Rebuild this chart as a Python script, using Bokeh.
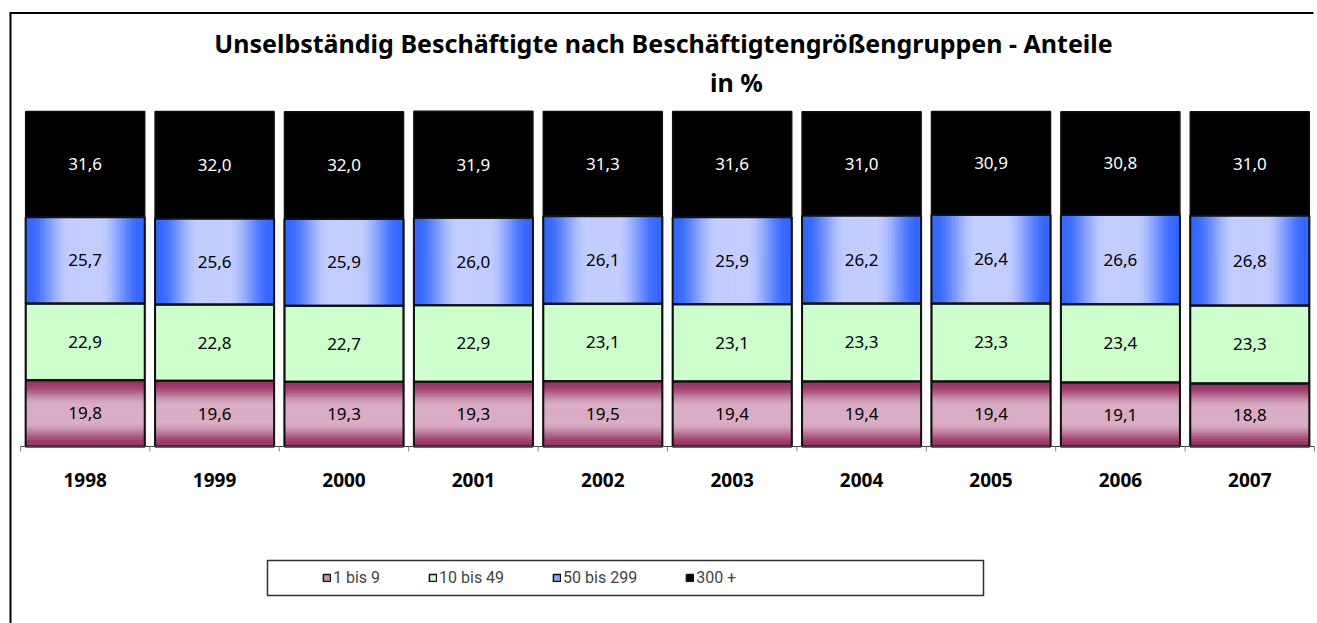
from bokeh.plotting import figure
from bokeh.models import (Range1d, ColumnDataSource, Label, BoxAnnotation, Legend, LegendItem)
from bokeh.core.properties import value
from bokeh.embed import file_html
from bokeh.resources import INLINE

# ---------------- data ----------------
years = ["1998", "1999", "2000", "2001", "2002", "2003", "2004", "2005", "2006", "2007"]
s_1_9 = [19.8, 19.6, 19.3, 19.3, 19.5, 19.4, 19.4, 19.4, 19.1, 18.8]
s_10_49 = [22.9, 22.8, 22.7, 22.9, 23.1, 23.1, 23.3, 23.3, 23.4, 23.3]
s_50_299 = [25.7, 25.6, 25.9, 26.0, 26.1, 25.9, 26.2, 26.4, 26.6, 26.8]
s_300 = [31.6, 32.0, 32.0, 31.9, 31.3, 31.6, 31.0, 30.9, 30.8, 31.0]
series_names = ["1 bis 9", "10 bis 49", "50 bis 299", "300 +"]
title_line1 = "Unselbständig Beschäftigte nach Beschäftigtengrößengruppen - Anteile"
title_line2 = "in %"

# ---------------- layout / style ----------------
W, H = 1317, 623
X0, XPX = 20.0, 129.4      # pixel of category 0 start, pixels per category
Y0, YPX = 446.0, 3.35      # pixel of value 0, pixels per percent
PINK_DARK, PINK_LIGHT, PINK_LEG = "#993366", "#DAAEC6", "#C597AE"
BLUE_DARK, BLUE_LIGHT, BLUE_LEG = "#3366FF", "#C4CEFF", "#8FA6FF"
GREEN = "#CCFFCC"
BLACK = "#000000"
FONT = "Noto Sans"
BW = 0.92
NSTRIP = 40

def px_x(px):
    return (px - X0) / XPX

def px_y(py):
    return (Y0 - py) / YPX

def hex2rgb(h):
    h = h.lstrip("#")
    return tuple(int(h[i:i + 2], 16) for i in (0, 2, 4))

def mix(c1, c2, t):
    a, b = hex2rgb(c1), hex2rgb(c2)
    return "#%02x%02x%02x" % tuple(int(round(a[i] + (b[i] - a[i]) * t)) for i in range(3))

def profile(u):
    d = abs(2 * u - 1)
    t = min(max((d - 0.25) / 0.7, 0.0), 1.0)
    return t * t * (3 - 2 * t)

n = len(years)
xc = [i + 0.5 for i in range(n)]
series = [s_1_9, s_10_49, s_50_299, s_300]
bottoms, tops = [], []
acc = [0.0] * n
for s in series:
    bottoms.append(list(acc))
    acc = [a + v for a, v in zip(acc, s)]
    tops.append(list(acc))

p = figure(width=W, height=H,
           x_range=Range1d(px_x(0), px_x(W)), y_range=Range1d(px_y(H), px_y(0)),
           output_backend="svg", toolbar_location=None,
           x_axis_location=None, y_axis_location=None,
           min_border_left=0, min_border_right=0, min_border_top=0, min_border_bottom=0)
p.outline_line_color = None
p.background_fill_color = "white"
p.border_fill_color = "white"
p.xgrid.visible = False
p.ygrid.visible = False

# outer chart-area border (only left and top edges fall inside the window)
p.segment(x0=[px_x(10), px_x(9)], y0=[px_y(12.5), px_y(12.5)],
          x1=[px_x(10), px_x(W - 4)], y1=[px_y(H), px_y(12.5)],
          line_color="black", line_width=2)

# base bars (also legend glyphs)
base_fills = [PINK_LEG, GREEN, BLUE_LEG, BLACK]
base_renderers = []
for k, s in enumerate(series):
    src = ColumnDataSource(dict(x=xc, bottom=bottoms[k], top=tops[k]))
    r = p.vbar(x="x", bottom="bottom", top="top", width=BW, source=src,
               fill_color=base_fills[k], line_color="#111111", line_width=1.5)
    base_renderers.append(r)

# pink: vertical gradient strips
pl, pr, pb, pt, pc = [], [], [], [], []
for i in range(n):
    b, t = bottoms[0][i], tops[0][i]
    for j in range(NSTRIP):
        u = (j + 0.5) / NSTRIP
        pl.append(xc[i] - BW / 2); pr.append(xc[i] + BW / 2)
        pb.append(b + (t - b) * j / NSTRIP); pt.append(b + (t - b) * (j + 1) / NSTRIP)
        pc.append(mix(PINK_LIGHT, PINK_DARK, profile(u)))
p.quad(left=pl, right=pr, bottom=pb, top=pt, fill_color=pc, line_color=pc, line_width=0.5)

# blue: horizontal gradient strips
bl, br, bb, bt, bc = [], [], [], [], []
for i in range(n):
    b, t = bottoms[2][i], tops[2][i]
    for j in range(NSTRIP):
        u = (j + 0.5) / NSTRIP
        bl.append(xc[i] - BW / 2 + BW * j / NSTRIP); br.append(xc[i] - BW / 2 + BW * (j + 1) / NSTRIP)
        bb.append(b); bt.append(t)
        bc.append(mix(BLUE_LIGHT, BLUE_DARK, profile(u)))
p.quad(left=bl, right=br, bottom=bb, top=bt, fill_color=bc, line_color=bc, line_width=0.5)

# outlines on top
for k in range(3):
    p.vbar(x=xc, bottom=bottoms[k], top=tops[k], width=BW, fill_alpha=0,
           line_color="#111111", line_width=2)

# value labels
for k, s in enumerate(series):
    ys = [(b + t) / 2 for b, t in zip(bottoms[k], tops[k])]
    txt = [("%.1f" % v).replace(".", ",") for v in s]
    p.text(x=xc, y=ys, text=txt, text_align="center", text_baseline="middle",
           text_font=value(FONT), text_font_size="17px",
           text_color="white" if k == 3 else "black")

# category axis: line, boundary ticks, year labels
bounds = list(range(n + 1))
p.segment(x0=[0], y0=[0], x1=[n], y1=[0], line_color="#404040", line_width=1)
p.segment(x0=bounds, y0=[0] * len(bounds), x1=bounds, y1=[-5 / YPX] * len(bounds),
          line_color="#808080", line_width=1)
p.text(x=xc, y=[px_y(479)] * n, text=years, text_align="center", text_baseline="middle",
       text_font=value(FONT), text_font_style="bold", text_font_size="19px", text_color="black")

# title
p.add_layout(Label(x=px_x(663), y=px_y(42), text=title_line1, text_align="center",
                   text_baseline="alphabetic", text_font=FONT, text_font_style="bold",
                   text_font_size="25px", text_color="black"))
p.add_layout(Label(x=px_x(736), y=px_y(81), text=title_line2, text_align="center",
                   text_baseline="alphabetic", text_font=FONT, text_font_style="bold",
                   text_font_size="25px", text_color="black"))

# legend box + legend
p.add_layout(BoxAnnotation(left=px_x(267), right=px_x(983), top=px_y(560), bottom=px_y(595),
                           fill_color="white", fill_alpha=1, line_color="#303030",
                           line_alpha=1, line_width=1.5))
legend = Legend(items=[LegendItem(label=nm, renderers=[r]) for nm, r in zip(series_names, base_renderers)],
                orientation="horizontal", location=(322, H - 587),
                border_line_color=None, background_fill_alpha=0, padding=0, margin=0,
                spacing=48, glyph_width=9, glyph_height=9, label_standoff=2,
                label_text_font="Roboto", label_text_font_size="16px")
p.add_layout(legend, "center")

open("out.html", "w").write(file_html(p, INLINE))
